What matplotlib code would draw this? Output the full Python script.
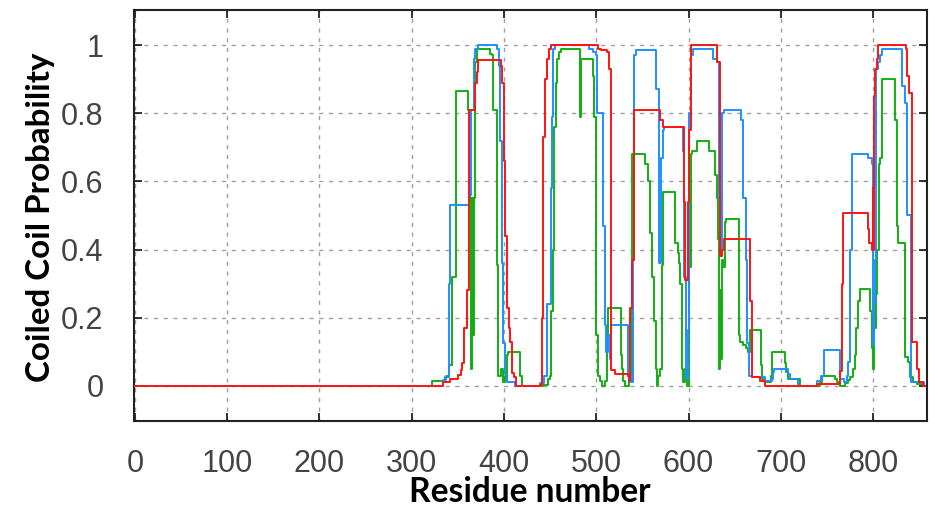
import matplotlib
matplotlib.use('Agg')
import matplotlib.pyplot as plt

# ---------------- data ----------------
green_x = [0, 321.6, 336, 340.4, 343.3, 347.6, 361.3, 363.1, 364.5, 365.5, 366.5, 367.5, 368.6, 370.4,
           384.8, 386.7, 388.4, 392, 393.8, 397, 399, 401, 402.9, 404.7, 417.3, 419.2,
           442.6, 448, 449.9, 450.6, 452.8, 454.2, 456.4, 457.8, 460, 461.4, 482.4, 483.2, 496.1, 497.6,
           499.7, 502.3, 504.1, 505.9, 509.5, 511.3, 513.1, 526.5, 527.6, 529.3, 531.2, 536,
           538.4, 552.8, 556.5, 558.3, 560.1, 562.9, 564.4, 565.5, 567.3, 569.1, 570.9, 572.7, 585.4,
           588.3, 589.7, 590.8, 592.6, 594.4, 596.2, 598, 600.5, 602.7, 604, 608.9, 622.2, 628.7, 630.5,
           632.3, 633.2, 634.1, 635, 636, 637.7, 639.6, 641, 654.7, 656, 659, 662, 664, 666.7, 678.6,
           680, 683, 689, 690.9, 704.6, 706, 707.5, 720.9,
           742.8, 744.6, 759, 761, 764.4, 769.8, 773.4, 775.2, 778.8, 780.6, 781.5, 783.4, 786, 797,
           799, 800.4, 801.4, 803, 804.5, 806.5, 808, 809.4, 823.5, 825.5, 827.5, 835, 838, 840, 843.5,
           848, 855]
green_y = [0, 0.013, 0.027, 0.06, 0.32, 0.865, 0.81, 0.55, 0.05, 0.55, 0.15, 0.55, 0.95, 0.99,
           0.975, 0.97, 0.81, 0.355, 0.03, 0.05, 0.01, 0.03, 0.09, 0.10, 0.03, 0.0,
           0.003, 0.02, 0.03, 0.22, 0.40, 0.76, 0.89, 0.96, 0.98, 0.99, 0.79, 0.96, 0.91, 0.79,
           0.15, 0.03, 0.013, 0.0, 0.013, 0.15, 0.23, 0.09, 0.05, 0.013, 0.0, 0.013,
           0.68, 0.65, 0.60, 0.45, 0.32, 0.19, 0.05, 0.0, 0.03, 0.05, 0.355, 0.57, 0.42,
           0.39, 0.36, 0.30, 0.05, 0.01, 0.05, 0.0, 0.35, 0.68, 0.69, 0.72, 0.69, 0.62, 0.55,
           0.43, 0.05, 0.28, 0.08, 0.37, 0.35, 0.48, 0.49, 0.15, 0.13, 0.12, 0.11, 0.10, 0.165, 0.06,
           0.02, 0.01, 0.03, 0.10, 0.067, 0.04, 0.02, 0.0,
           0.01, 0.03, 0.02, 0.01, 0.0, 0.008, 0.018, 0.027, 0.05, 0.09, 0.17, 0.25, 0.285, 0.22,
           0.11, 0.05, 0.17, 0.27, 0.40, 0.65, 0.67, 0.90, 0.78, 0.47, 0.42, 0.086, 0.07, 0.027, 0.01,
           0.005, 0.005]

blue_x = [0, 333.6, 337, 340, 342, 362.5, 364.5, 367, 369, 372, 392.5, 394.5, 395.5, 397.5, 399, 401,
          403, 412,
          439.5, 443, 446.5, 450.5, 452, 453.5, 455, 492, 496, 499.5,
          501, 507, 509, 511, 513, 514.5, 516, 534.5, 537.5, 539.5, 540.5, 543, 565, 568, 570, 572,
          573.7, 593.5, 595.3, 597, 599, 600.5, 602.5, 605, 627, 631, 633, 635, 636.7, 638.5, 656.5,
          659.5, 662, 663.7, 665.5, 669, 683, 690, 691.5, 692.4, 708.2, 710, 719,
          739, 744, 746.4, 764.5, 768, 771.6, 773.4, 775.2, 777, 795, 798.6, 799.6, 801, 802.2, 803.2,
          805, 807.6, 809.4, 831, 834.5, 836.3, 841, 841.7, 855]
blue_y = [0, 0.018, 0.03, 0.30, 0.53, 0.56, 0.81, 0.96, 0.99, 1.0, 0.99, 0.94, 0.72, 0.36, 0.125, 0.035,
          0.01, 0.0,
          0.008, 0.03, 0.24, 0.58, 0.79, 0.99, 1.0, 0.99, 0.98, 0.97,
          0.80, 0.47, 0.18, 0.10, 0.15, 0.08, 0.18, 0.03, 0.01, 0.37, 0.97, 0.985, 0.87, 0.36, 0.67, 0.75,
          0.76, 0.69, 0.32, 0.02, 0.165, 0.80, 0.97, 0.99, 0.96, 0.95, 0.55, 0.39, 0.80, 0.81, 0.78,
          0.55, 0.37, 0.125, 0.03, 0.025, 0.013, 0.02, 0.04, 0.05, 0.035, 0.02, 0.0,
          0.013, 0.03, 0.105, 0.02, 0.01, 0.03, 0.07, 0.40, 0.68, 0.67, 0.65, 0.12, 0.24, 0.37, 0.93,
          0.95, 0.97, 0.99, 0.88, 0.83, 0.50, 0.44, 0.01, 0.0]

red_x = [0, 334, 341.5, 350.5, 353.4, 354.9, 357, 359.5, 362.4, 368.6, 370.4, 371.5, 396.7, 398.2,
         399.5, 401, 402.9, 405, 406.5, 409, 411, 412.7,
         439, 440.8, 442.6, 444.4, 446.3, 448.8, 450.6, 501.8, 505, 511.9, 513.3, 515.5, 519.8, 534.2,
         536, 537, 538.8, 540.6, 569, 571.9, 595.3, 596.5, 599.6, 600.7, 602.5, 631.3, 634, 636.7,
         638.5, 666.2, 668.5, 677.5, 683,
         739, 764.2, 766, 767.8, 795, 796, 798.6, 799.5, 800.4, 801.4, 802.2, 804, 805.8, 835.8, 837.2,
         839, 842.5, 847.3, 850.2, 854.6, 856]
red_y = [0, 0.01, 0.02, 0.032, 0.047, 0.067, 0.17, 0.28, 0.81, 0.89, 0.92, 0.955, 0.94, 0.89,
         0.66, 0.44, 0.23, 0.17, 0.13, 0.037, 0.027, 0.0,
         0.003, 0.20, 0.73, 0.90, 0.96, 0.99, 1.0, 0.99, 0.985, 0.98, 0.93, 0.047, 0.034, 0.03,
         0.015, 0.23, 0.37, 0.81, 0.78, 0.76, 0.54, 0.31, 0.54, 0.75, 1.0, 0.95, 0.38, 0.40,
         0.43, 0.25, 0.027, 0.013, 0.0,
         0.005, 0.045, 0.30, 0.506, 0.46, 0.42, 0.40, 0.58, 0.40, 0.85, 0.93, 0.96, 1.0, 0.99, 0.91,
         0.86, 0.13, 0.05, 0.01, 0.0, 0.0]

x_ticks = [0, 100, 200, 300, 400, 500, 600, 700, 800]
y_ticks = [0, 0.2, 0.4, 0.6, 0.8, 1.0]
y_tick_labels = ['0', '0.2', '0.4', '0.6', '0.8', '1']

# ---------------- figure ----------------
W, H = 938, 511
fig = plt.figure(figsize=(W / 100, H / 100), dpi=100)
ax = fig.add_axes([134 / W, 1 - 421 / H, (927 - 134) / W, (421 - 10) / H])

ax.step(green_x, green_y, where='post', color='#10b010', lw=1.4, zorder=3)
ax.step(blue_x, blue_y, where='post', color='#1e8fff', lw=1.4, zorder=4)
ax.step(red_x, red_y, where='post', color='#ff1414', lw=1.4, zorder=5)

ax.set_xlim(-1, 858.5)
ax.set_ylim(-0.103, 1.103)
ax.set_xticks(x_ticks)
ax.set_yticks(y_ticks)
ax.set_yticklabels(y_tick_labels)

ax.grid(True, color='#a0a0a0', linestyle=(0, (3, 4)), linewidth=1.0, zorder=1)
ax.set_axisbelow(True)

for s in ax.spines.values():
    s.set_linewidth(1.5)
    s.set_color('#222222')

ax.tick_params(axis='both', direction='in', length=6, width=1.3, colors='#222222',
               top=True, right=True, labelcolor='#444444')
ax.tick_params(axis='x', pad=20)
ax.tick_params(axis='y', pad=22)
for lab in ax.get_xticklabels() + ax.get_yticklabels():
    lab.set_fontfamily('Liberation Sans')
    lab.set_fontsize(22)

xl = fig.text(530 / W, 1 - 492 / H, 'Residue number', ha='center', va='center',
              fontfamily='Lato', fontweight='bold', fontsize=24, color='black')
yl = fig.text(41 / W, 1 - 217 / H, 'Coiled Coil Probability', ha='center', va='center',
              rotation=90, fontfamily='Lato', fontweight='bold', fontsize=24, color='black')

# fit label sizes to the reference extents
fig.canvas.draw()
r = fig.canvas.get_renderer()
bx = xl.get_window_extent(r)
xl.set_fontsize(24 * 242 / bx.width)
by = yl.get_window_extent(r)
yl.set_fontsize(24 * 330 / by.height)

fig.savefig('out.png', dpi=100)
